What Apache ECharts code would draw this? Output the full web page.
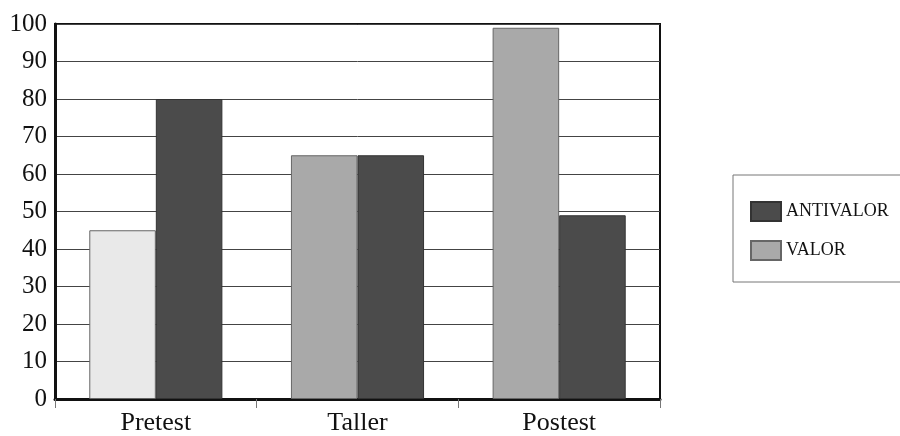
<!DOCTYPE html>
<html>
<head>
<meta charset="utf-8">
<script src="https://cdn.jsdelivr.net/npm/echarts@6/dist/echarts.min.js"></script>
<style>
  html, body { margin: 0; padding: 0; background: #fff; }
  #main { width: 900px; height: 436px; }
</style>
</head>
<body>
<div id="main"></div>
<script>
var categories = ['Pretest', 'Taller', 'Postest'];
var valor = [45, 65, 99];
var antivalor = [80, 65, 49];
var yTicks = [0, 10, 20, 30, 40, 50, 60, 70, 80, 90, 100];

var serif = '"Liberation Serif", "DejaVu Serif", serif';

var myChart = echarts.init(document.getElementById('main'));

var option = {
  animation: false,
  backgroundColor: '#fff',
  grid: {
    left: 55,
    top: 24,
    right: 240,
    bottom: 36,
    show: true,
    borderColor: '#111',
    borderWidth: 2,
    backgroundColor: 'transparent'
  },
  legend: {
    orient: 'vertical',
    left: 733,
    top: 175,
    padding: [26, 40, 21, 17],
    itemWidth: 30,
    itemHeight: 19,
    itemGap: 18,
    icon: 'rect',
    borderColor: '#777',
    borderWidth: 1,
    data: ['ANTIVALOR', 'VALOR'],
    textStyle: {
      fontFamily: serif,
      fontSize: 18,
      color: '#111'
    }
  },
  xAxis: {
    type: 'category',
    data: categories,
    axisLine: { lineStyle: { color: '#111', width: 3 } },
    axisTick: { show: true, length: 9, lineStyle: { color: '#777', width: 1 } },
    axisLabel: {
      fontFamily: serif,
      fontSize: 26,
      color: '#111',
      margin: 11
    }
  },
  yAxis: {
    type: 'value',
    min: 0,
    max: 100,
    interval: 10,
    axisLine: { show: true, lineStyle: { color: '#111', width: 3 } },
    axisTick: { show: false },
    splitLine: { show: true, lineStyle: { color: '#444', width: 1 } },
    axisLabel: {
      fontFamily: serif,
      fontSize: 25,
      color: '#111',
      margin: 8,
      formatter: function (v) {
        return yTicks.indexOf(v) >= 0 ? String(v) : '';
      }
    }
  },
  series: [
    {
      name: 'VALOR',
      type: 'bar',
      barGap: '0%',
      barCategoryGap: '34%',
      // the first VALOR bar is much paler in the print
      data: valor.map(function (v, i) {
        return i === 0 ? { value: v, itemStyle: { color: '#e9e9e9' } } : v;
      }),
      itemStyle: { color: '#a9a9a9', borderColor: '#666', borderWidth: 1 }
    },
    {
      name: 'ANTIVALOR',
      type: 'bar',
      data: antivalor,
      itemStyle: { color: '#4b4b4b', borderColor: '#333', borderWidth: 1 }
    }
  ]
};

myChart.setOption(option);
</script>
</body>
</html>
